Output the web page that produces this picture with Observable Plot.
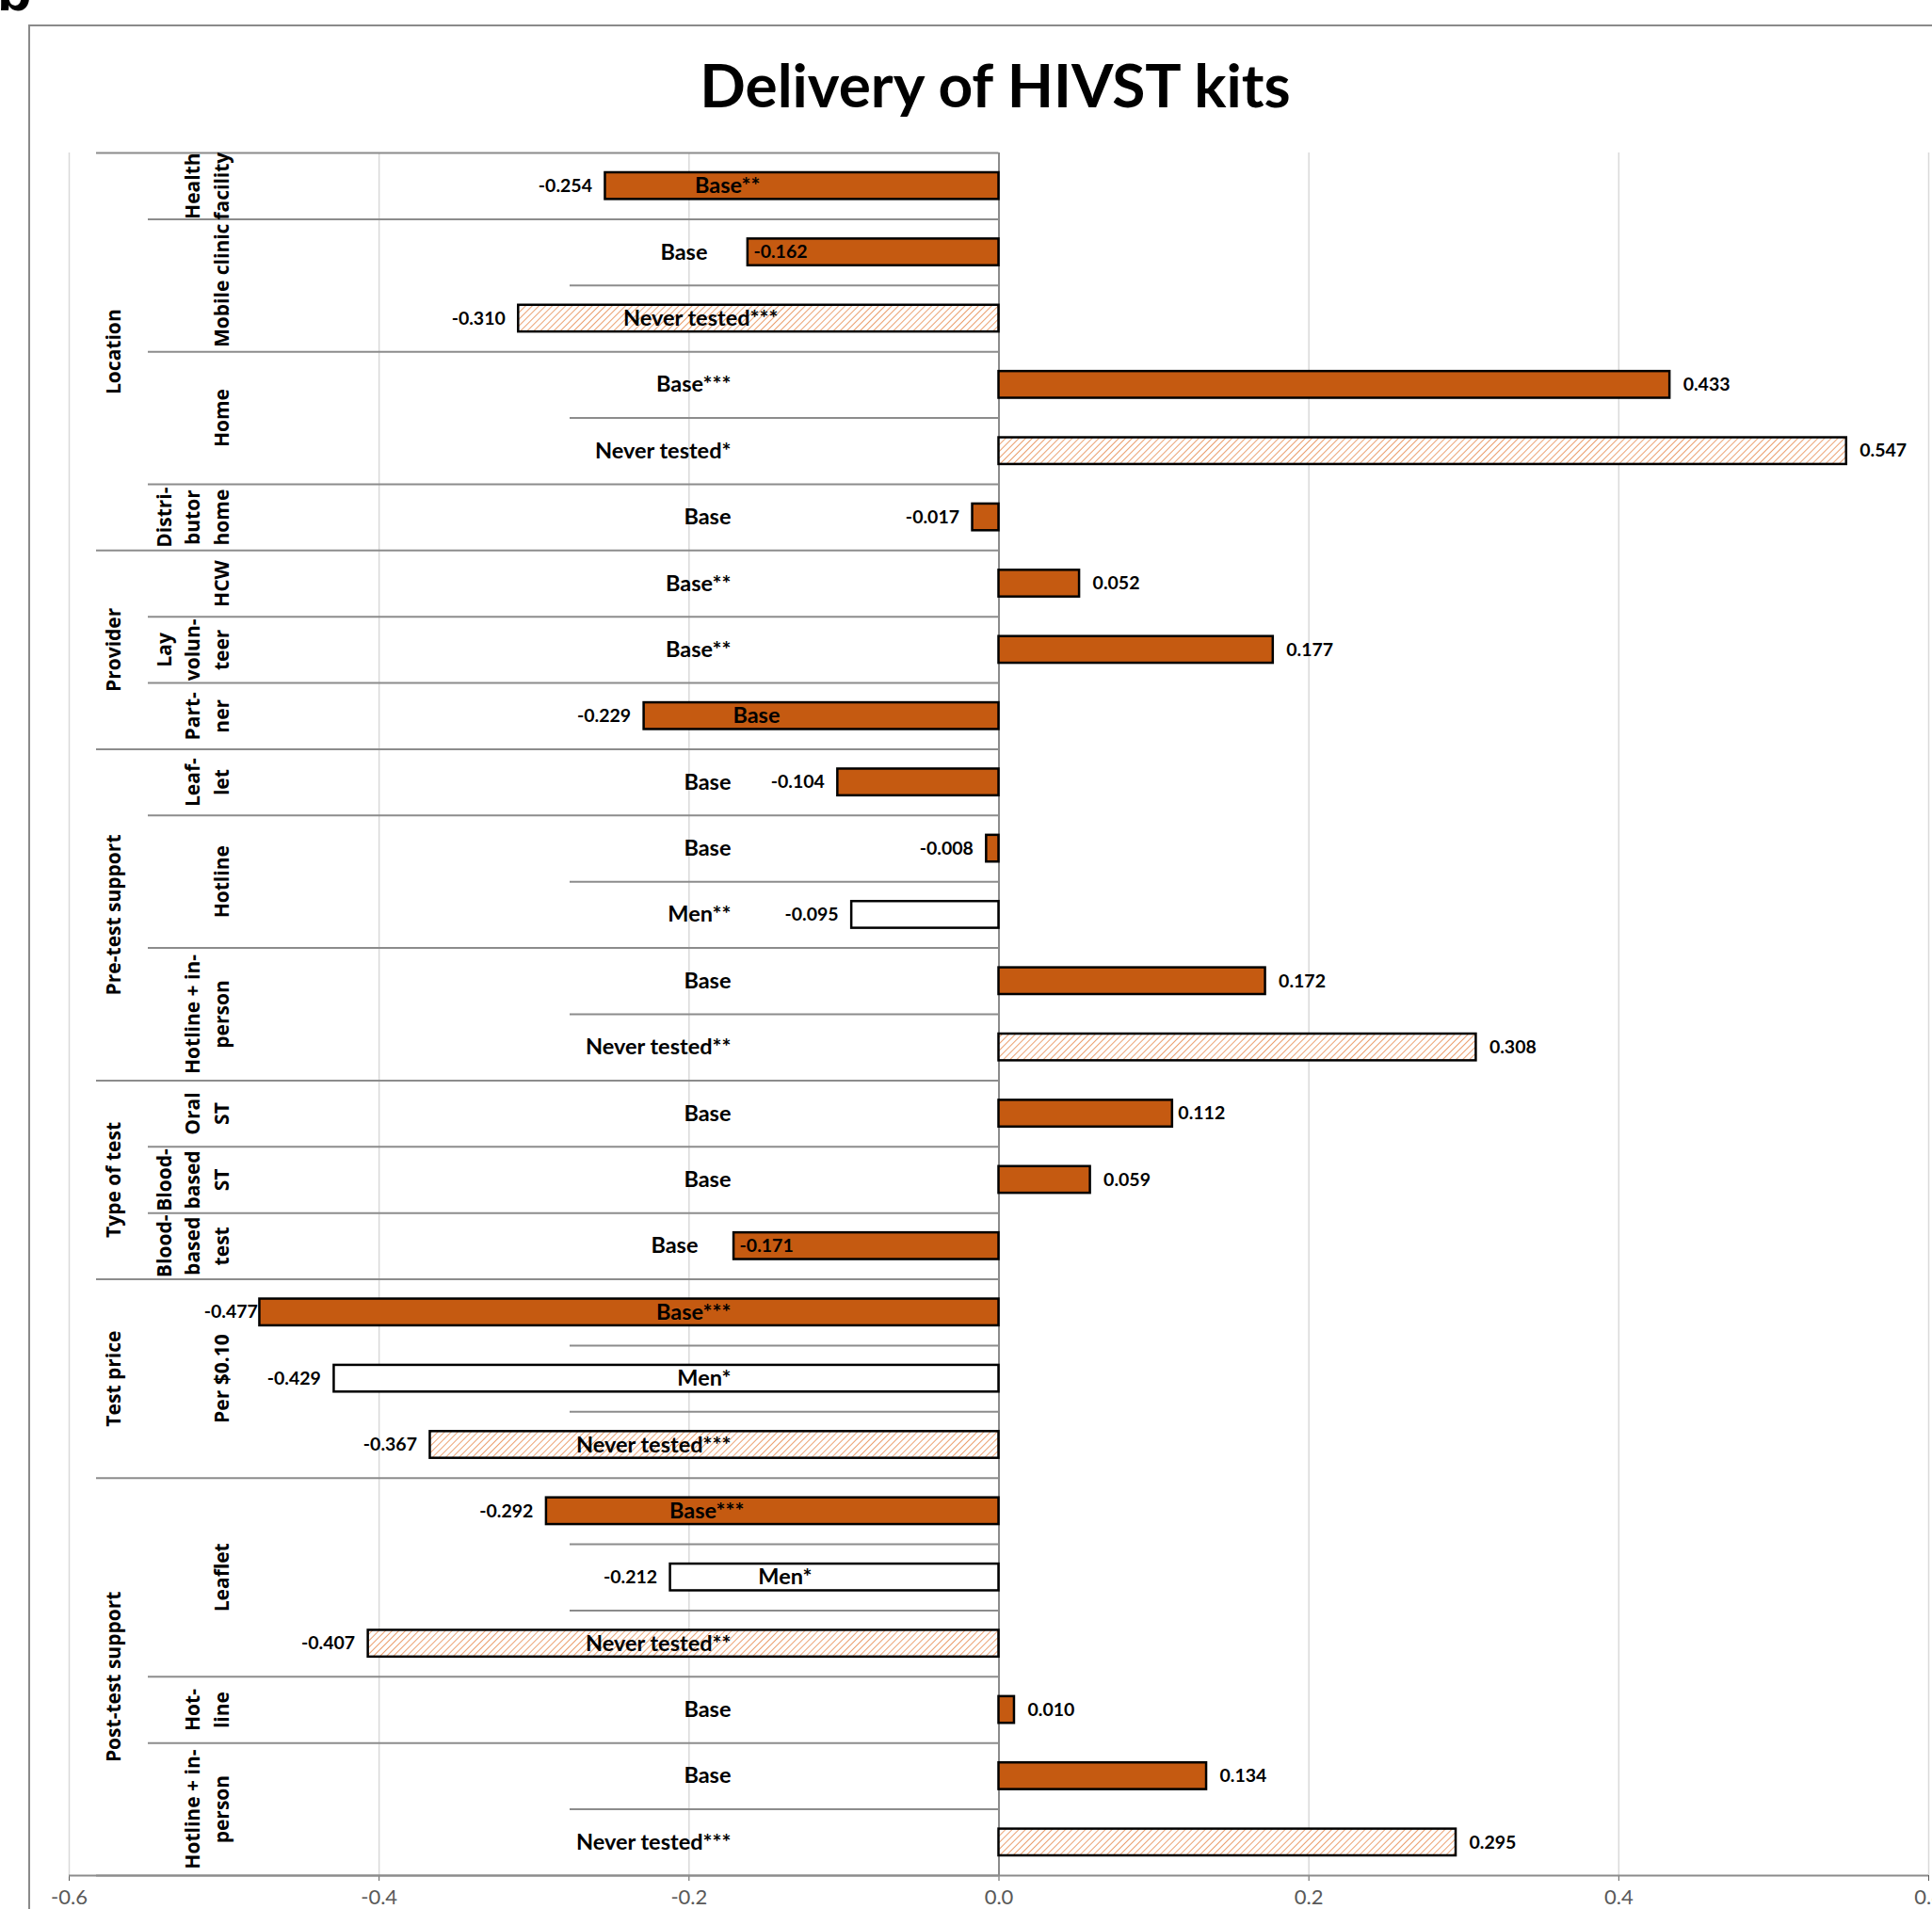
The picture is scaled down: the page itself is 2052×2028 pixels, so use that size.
<!DOCTYPE html>
<html><head><meta charset="utf-8">
<script src="https://cdn.jsdelivr.net/npm/d3@7"></script>
<script src="https://cdn.jsdelivr.net/npm/@observablehq/plot@0.6"></script>
<style>
html,body{margin:0;padding:0;background:#fff;overflow:hidden;}
#page{position:relative;width:2052px;height:2028px;overflow:hidden;background:#fff;}
#frame{position:absolute;left:30px;top:26px;width:2100px;height:2100px;border:2px solid #8a8a8a;box-sizing:border-box;}
#title{position:absolute;left:1057px;top:58px;transform:translateX(-50%);font:700 64px Lato, sans-serif;line-height:1;white-space:nowrap;color:#000;}
#panel{position:absolute;left:-3px;top:-39px;font:700 60px "Liberation Sans", sans-serif;line-height:1;color:#000;}
#chart{position:absolute;left:0;top:140px;}
</style></head><body>
<div id="page"><div id="panel">b</div><div id="frame"></div><div id="title">Delivery of HIVST kits</div><div id="chart"></div></div>
<script>
// ---------- DATA ----------
const rowGroup = ["Location","Location","Location","Location","Location","Location",
  "Provider","Provider","Provider",
  "Pre-test support","Pre-test support","Pre-test support","Pre-test support","Pre-test support",
  "Type of test","Type of test","Type of test",
  "Test price","Test price","Test price",
  "Post-test support","Post-test support","Post-test support","Post-test support","Post-test support","Post-test support"];
const rowSub = ["Health\nfacility","Mobile clinic","Mobile clinic","Home","Home","Distri-\nbutor\nhome",
  "HCW","Lay\nvolun-\nteer","Part-\nner",
  "Leaf-\nlet","Hotline","Hotline","Hotline + in-\nperson","Hotline + in-\nperson",
  "Oral\nST","Blood-\nbased\nST","Blood-\nbased\ntest",
  "Per $0.10","Per $0.10","Per $0.10",
  "Leaflet","Leaflet","Leaflet","Hot-\nline","Hotline + in-\nperson","Hotline + in-\nperson"];
const rowLabel = ["Base**","Base","Never tested***","Base***","Never tested*","Base",
  "Base**","Base**","Base",
  "Base","Base","Men**","Base","Never tested**",
  "Base","Base","Base",
  "Base***","Men*","Never tested***",
  "Base***","Men*","Never tested**","Base","Base","Never tested***"];
const values = [-0.254,-0.162,-0.310,0.433,0.547,-0.017,
  0.052,0.177,-0.229,
  -0.104,-0.008,-0.095,0.172,0.308,
  0.112,0.059,-0.171,
  -0.477,-0.429,-0.367,
  -0.292,-0.212,-0.407,0.010,0.134,0.295];
const xTicks = [-0.6,-0.4,-0.2,0,0.2,0.4,0.6];

// ---------- LAYOUT / STYLE ----------
const W = 2052, H = 1888, ML = 73, MR = 4, MT = 22, MB = 36;
const lineStartPx = {1: 102, 2: 157, 3: 605};
const rowLabelRightPx = {default: 776, 0: 807, 1: 751, 2: 826, 8: 828, 16: 741, 20: 790, 21: 862};
const valuePlacement = {1: "inside", 16: "inside", 17: "tight", 14: "near"};
const ORANGE = "#C55A11";

const xs = Plot.scale({x: {domain: [-0.6, 0.6], range: [ML, W - MR]}});
const inv = px => xs.invert(px);

const rows = values.map((v, i) => ({
  i, value: v, group: rowGroup[i], sub: rowSub[i], label: rowLabel[i],
  sample: rowLabel[i].startsWith("Base") ? "base" : rowLabel[i].startsWith("Men") ? "men" : "never",
  place: valuePlacement[i] || (v < 0 ? "outneg" : "outpos"),
  text: v.toFixed(3)
}));
const n = rows.length;

// boundaries between rows
const bounds = [];
for (let k = 0; k <= n; k++) {
  let level;
  if (k === 0 || k === n || rows[k].group !== rows[k-1].group) level = 1;
  else if (rows[k].sub !== rows[k-1].sub) level = 2;
  else level = 3;
  bounds.push({k, level});
}
function spans(key) {
  const out = [];
  rows.forEach((r, i) => {
    const kv = key(r);
    if (out.length && out[out.length-1].key === kv) out[out.length-1].end = i;
    else out.push({key: kv, name: kv.split("|").pop(), start: i, end: i});
  });
  return out;
}
const groupSpans = spans(r => r.group);
const subSpans = spans(r => r.group + "|" + r.sub);

const labelStyle = {fontFamily: "Lato", fontWeight: 700, fill: "#000"};
const catStyle = {fontFamily: "Open Sans", fontWeight: 700, fontSize: 21, fill: "#000", rotate: -90, frameAnchor: "left", textAnchor: "middle", lineAnchor: "bottom", lineHeight: 1.43};
const barBase = {x1: 0, x2: "value", y1: "i", y2: d => d.i + 1, insetTop: 21, insetBottom: 21, stroke: "#000", strokeWidth: 2.5};

const chart = Plot.plot({
  width: W, height: H, marginLeft: ML, marginRight: MR, marginTop: MT, marginBottom: MB,
  x: {domain: [-0.6, 0.6], ticks: xTicks, tickFormat: d => d.toFixed(1), label: null, tickSize: 6, tickPadding: 9},
  y: {domain: [0, n], reverse: true, axis: null},
  style: {fontFamily: "Lato", fontSize: "22px", color: "#595959", background: "transparent"},
  marks: [
    Plot.ruleX(xTicks.filter(t => t !== 0), {y1: 0, y2: n, stroke: "#d9d9d9", strokeWidth: 1.5}),
    Plot.ruleY(bounds, {y: "k", x1: d => inv(lineStartPx[d.level]), x2: 0, stroke: "#8c8c8c", strokeWidth: 2}),
    Plot.ruleY([n], {stroke: "#8c8c8c", strokeWidth: 2}),
    Plot.ruleX([0], {y1: 0, y2: n, stroke: "#8c8c8c", strokeWidth: 2}),
    Plot.rect(rows.filter(d => d.sample === "base"), {...barBase, fill: ORANGE}),
    Plot.rect(rows.filter(d => d.sample === "men"), {...barBase, fill: "#fff"}),
    Plot.rect(rows.filter(d => d.sample === "never"), {...barBase, fill: "url(#hatch)"}),
    Plot.text(rows, {...labelStyle, x: d => inv(rowLabelRightPx[d.i] ?? rowLabelRightPx.default), y: d => d.i + 0.5, text: "label", textAnchor: "end", fontSize: 23.5}),
    Plot.text(rows.filter(d => d.place === "outneg"), {...labelStyle, x: "value", y: d => d.i + 0.5, text: "text", textAnchor: "end", dx: -14, fontSize: 19.5}),
    Plot.text(rows.filter(d => d.place === "tight"), {...labelStyle, x: "value", y: d => d.i + 0.5, text: "text", textAnchor: "end", dx: -2, fontSize: 19.5}),
    Plot.text(rows.filter(d => d.place === "outpos"), {...labelStyle, x: "value", y: d => d.i + 0.5, text: "text", textAnchor: "start", dx: 14, fontSize: 19.5}),
    Plot.text(rows.filter(d => d.place === "near"), {...labelStyle, x: "value", y: d => d.i + 0.5, text: "text", textAnchor: "start", dx: 6, fontSize: 19.5}),
    Plot.text(rows.filter(d => d.place === "inside"), {...labelStyle, x: "value", y: d => d.i + 0.5, text: "text", textAnchor: "start", dx: 6, fontSize: 19.5}),
    Plot.text(groupSpans, {...catStyle, y: d => (d.start + d.end + 1) / 2, text: "name", dx: 54}),
    Plot.text(subSpans, {...catStyle, y: d => (d.start + d.end + 1) / 2, text: "name", dx: 169})
  ]
});

// hatch pattern definition
const ns = "http://www.w3.org/2000/svg";
const defs = document.createElementNS(ns, "defs");
defs.innerHTML = `<pattern id="hatch" patternUnits="userSpaceOnUse" width="5" height="5" patternTransform="rotate(45)">
  <rect width="5" height="5" fill="#fff"/>
  <line x1="0" y1="0" x2="0" y2="5" stroke="#EBA070" stroke-width="2"/>
</pattern>`;
chart.insertBefore(defs, chart.firstChild);
document.getElementById("chart").appendChild(chart);
</script>
</body></html>
